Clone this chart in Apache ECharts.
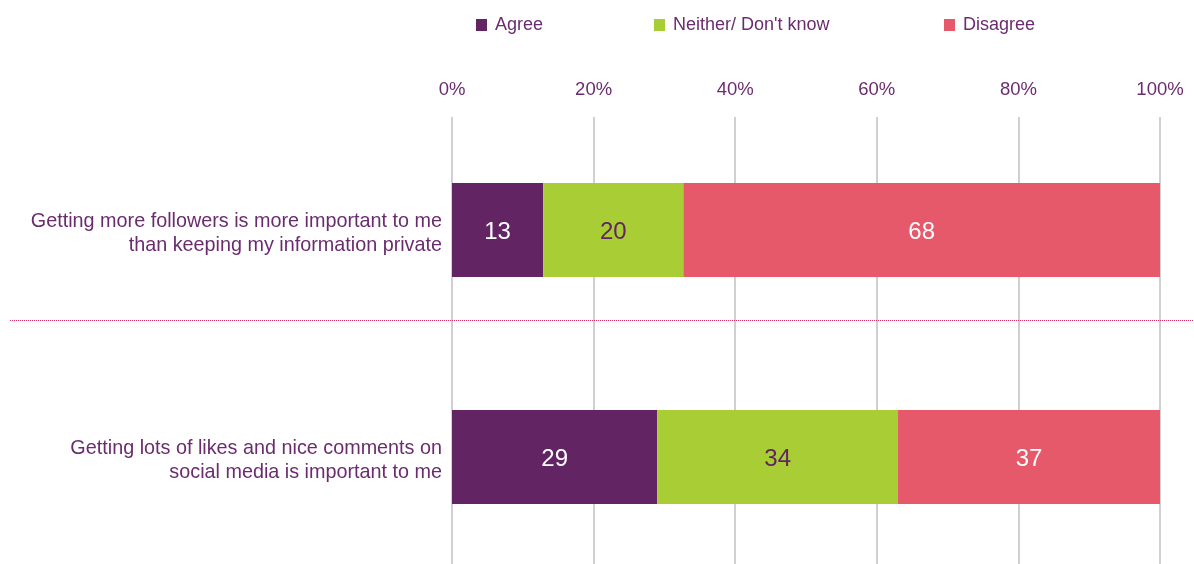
<!DOCTYPE html>
<html>
<head>
<meta charset="utf-8">
<script src="https://cdn.jsdelivr.net/npm/echarts@6/dist/echarts.min.js"></script>
<style>html,body{margin:0;padding:0;background:#fff}#c{width:1194px;height:564px}</style>
</head>
<body>
<div id="c"></div>
<script>
var categories = [
  'Getting more followers is more important to me\nthan keeping my information private',
  'Getting lots of likes and nice comments on\nsocial media is important to me'
];
var seriesNames = ['Agree', 'Neither/ Don\'t know', 'Disagree'];
var agree = [13, 29];
var neither = [20, 34];
var disagree = [68, 37];
var tickLabels = ['0%', '20%', '40%', '60%', '80%', '100%'];

var colors = ['#622463', '#a8cd35', '#e5596a'];
var labelColors = ['#ffffff', '#622463', '#ffffff'];
var purple = '#6b2c6f';
var font = '"Liberation Sans", Arial, sans-serif';

var raw = [agree, neither, disagree];
var totals = categories.map(function (_, i) { return agree[i] + neither[i] + disagree[i]; });

var series = raw.map(function (arr, s) {
  return {
    name: seriesNames[s],
    type: 'bar',
    stack: 'total',
    xAxisIndex: 1,
    yAxisIndex: 1,
    barWidth: 94,
    itemStyle: { color: colors[s] },
    label: {
      show: true,
      position: 'inside',
      color: labelColors[s],
      fontSize: 24,
      fontFamily: font,
      offset: [0, 2],
      formatter: function (p) { return raw[s][p.dataIndex]; }
    },
    data: arr.map(function (v, i) { return v / totals[i] * 100; })
  };
});

var legendLefts = [471, 649, 939];
var legends = seriesNames.map(function (n, i) {
  return {
    data: [n], left: legendLefts[i], top: 11,
    itemWidth: 11, itemHeight: 12, icon: 'rect',
    textStyle: { color: purple, fontSize: 18, fontFamily: font, padding: [0, 0, 0, 3] }
  };
});

var chart = echarts.init(document.getElementById('c'), null, { renderer: 'canvas' });
chart.setOption({
  animation: false,
  legend: legends,
  grid: [
    { left: 452, width: 708, top: 117, bottom: 0, containLabel: false },
    { left: 452, width: 708, top: 230, height: 227, containLabel: false }
  ],
  xAxis: [{
    gridIndex: 0,
    type: 'value', position: 'top', min: 0, max: 100, interval: 20,
    axisLine: { show: false }, axisTick: { show: false },
    axisLabel: {
      color: purple, fontSize: 18.5, fontFamily: font, margin: 18,
      formatter: function (v) { return tickLabels[v / 20]; }
    },
    splitLine: { show: true, lineStyle: { color: '#d0d0d0', width: 2 } }
  }, {
    gridIndex: 1,
    type: 'value', min: 0, max: 100, interval: 20, show: false,
    splitLine: { show: false }
  }],
  yAxis: [{
    gridIndex: 0, type: 'category', data: [], show: false
  }, {
    gridIndex: 1,
    type: 'category', inverse: true, data: categories, boundaryGap: false,
    axisLine: { show: false }, axisTick: { show: false }, splitLine: { show: false },
    axisLabel: {
      color: purple, fontSize: 19.8, fontFamily: font, align: 'right', margin: 10, lineHeight: 24,
      formatter: function (v) {
        return '{s| }\n' + v.split('\n').map(function (l) { return '{t|' + l + '}'; }).join('\n');
      },
      rich: {
        s: { fontSize: 1, lineHeight: 8 },
        t: { color: purple, fontSize: 19.8, fontFamily: font, lineHeight: 24, align: 'right' }
      }
    }
  }],
  graphic: [{
    type: 'line', z: 10,
    shape: { x1: 10, y1: 320.5, x2: 1194, y2: 320.5 },
    style: { stroke: '#d8306a', lineWidth: 1, lineDash: [1, 1] }
  }],
  series: series
});
</script>
</body>
</html>
